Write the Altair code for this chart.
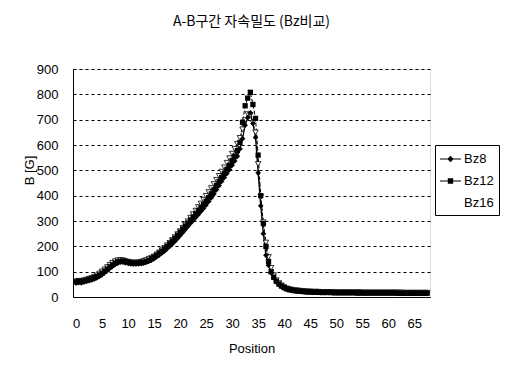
import altair as alt
import pandas as pd

series_names = ["Bz8", "Bz12", "Bz16"]
positions = [i * 0.5 for i in range(136)]

bz8 = [
    55, 57, 56, 59, 61, 64, 67, 71, 76, 82,
    89, 97, 105, 114, 122, 129, 134, 137, 137, 135,
    133, 131, 130, 130, 131, 132, 134, 137, 141, 146,
    152, 159, 166, 174, 182, 191, 200, 210, 220, 231,
    243, 255, 267, 279, 291, 302, 314, 326, 338, 350,
    363, 377, 392, 407, 424, 440, 457, 472, 488, 503,
    520, 537, 556, 585, 625, 678, 708, 727, 685, 630,
    490, 360, 250, 165, 125, 95, 75, 60, 49, 41,
    35, 31, 28, 26, 24, 23, 22, 21, 20, 19,
    19, 18,
    18, 18, 17, 17, 17, 17, 17, 16, 16, 16,
    16, 16, 16, 16, 16, 16, 15, 15, 15, 15,
    15, 15, 15, 15, 15, 15, 15, 15, 15, 15,
    15, 15, 14, 14, 14, 14, 14, 14, 14, 14,
    14, 14, 14, 14,
]

bz12 = [
    60, 62, 61, 64, 66, 69, 72, 76, 81, 87,
    94, 102, 110, 119, 127, 134, 139, 141, 141, 139,
    137, 135, 134, 134, 135, 136, 138, 141, 145, 151,
    158, 165, 173, 181, 190, 200, 210, 221, 232, 244,
    256, 268, 280, 292, 304, 316, 328, 340, 352, 365,
    378, 392, 407, 423, 440, 456, 472, 488, 504, 520,
    538, 556, 578, 610, 690, 755, 785, 808, 760, 705,
    560, 400, 290, 200, 140, 100, 78, 62, 51, 43,
    37, 32, 29, 27, 25, 24, 23, 22, 21, 20,
    20, 19,
    19, 19, 18, 18, 18, 18, 18, 17, 17, 17,
    17, 17, 17, 17, 17, 17, 16, 16, 16, 16,
    16, 16, 16, 16, 16, 16, 16, 16, 16, 16,
    16, 16, 15, 15, 15, 15, 15, 15, 15, 15,
    15, 15, 15, 15,
]

bz16 = [
    62, 64, 63, 66, 69, 72, 75, 80, 86, 93,
    101, 109, 118, 127, 135, 141, 145, 146, 145, 142,
    139, 137, 136, 136, 137, 139, 142, 146, 151, 155,
    160, 168, 176, 185, 194, 204, 214, 225, 236, 248,
    260, 273, 286, 299, 313, 327, 341, 355, 369, 384,
    399, 414, 430, 446, 462, 478, 495, 512, 530, 548,
    566, 585, 605, 628, 662, 698, 722, 718, 688, 650,
    525, 395, 295, 215, 158, 115, 86, 66, 55, 46,
    39, 34, 31, 29, 27, 26, 25, 24, 23, 22,
    22, 21,
    21, 21, 20, 20, 20, 20, 20, 20, 19, 19,
    19, 19, 19, 19, 19, 19, 19, 19, 18, 18,
    18, 18, 18, 18, 18, 18, 18, 18, 18, 18,
    18, 18, 18, 18, 17, 17, 17, 17, 17, 17,
    17, 17, 17, 17,
]

x_ticks = list(range(0, 70, 5))
y_ticks = list(range(0, 1000, 100))

rows = []
for name, vals in zip(series_names, [bz8, bz12, bz16]):
    for p, v in zip(positions, vals):
        rows.append({"Position": p, "B": v, "series": name})
df = pd.DataFrame(rows)

FONT = "Liberation Sans"

x_enc = alt.X(
    "Position:Q",
    scale=alt.Scale(domain=[-0.6, 68.05], nice=False, zero=False),
    axis=alt.Axis(
        values=x_ticks, title="Position", grid=False, ticks=False,
        labelFontSize=13, labelFont=FONT, labelColor="black", labelPadding=20,
        titleFontSize=13, titleFont=FONT, titleFontWeight="normal", titleColor="black",
        titlePadding=12, domainColor="black", labelFlush=False,
    ),
)
y_enc = alt.Y(
    "B:Q",
    scale=alt.Scale(domain=[0, 900], nice=False),
    axis=alt.Axis(
        values=y_ticks, title="B [G]", grid=True, gridColor="black",
        gridDash=[3, 3], gridWidth=1, ticks=False,
        labelFontSize=13, labelFont=FONT, labelColor="black", labelPadding=15,
        titleFontSize=13, titleFont=FONT, titleFontWeight="normal", titleColor="black",
        titleAngle=270, titleX=-44, titleY=101, titleAlign="center", titleBaseline="middle",
        domainColor="black",
    ),
)

base = alt.Chart(df)


def line_for(name, dash, width):
    return base.transform_filter(alt.datum.series == name).mark_line(
        color="black", strokeWidth=width, strokeDash=dash,
    ).encode(x=x_enc, y=y_enc)


line16 = line_for("Bz16", [2, 2], 1)
line12 = line_for("Bz12", [4, 2], 1)
line8 = line_for("Bz8", [1, 0], 1.3)

pts16 = base.transform_filter(alt.datum.series == "Bz16").mark_point(
    shape="triangle-down", filled=False, fill="white", stroke="black",
    strokeWidth=0.8, size=30, opacity=1,
).encode(x=x_enc, y=y_enc)

pts12 = base.transform_filter(alt.datum.series == "Bz12").mark_point(
    shape="square", filled=True, color="black", size=28, opacity=1,
).encode(x=x_enc, y=y_enc)

pts8 = base.transform_filter(alt.datum.series == "Bz8").mark_point(
    shape="diamond", filled=True, color="black", size=32, opacity=1,
).encode(x=x_enc, y=y_enc)

legend_paths = [
    "M-1.17,-0.06H1.17V0.06H-1.17Z M0,-0.36L0.36,0L0,0.36L-0.36,0Z",
    "M-1.17,-0.06H1.17V0.06H-1.17Z M-0.3,-0.3H0.3V0.3H-0.3Z",
    "M0,0Z",
]

# legend carrier: draws no rows, only provides the legend from the scale domain
carrier = base.transform_filter(alt.datum.B < -1000).mark_point(
    filled=True, color="black",
).encode(
    x=x_enc, y=y_enc,
    shape=alt.Shape(
        "series:N",
        scale=alt.Scale(domain=series_names, range=legend_paths),
        legend=alt.Legend(
            title=None, orient="none", legendX=362, legendY=76,
            labelFontSize=13, labelFont=FONT, labelColor="black",
            symbolSize=324, symbolOffset=1.5, labelOffset=4.5,
            symbolFillColor="black", symbolStrokeColor="black",
            symbolStrokeWidth=0, symbolOpacity=1,
            strokeColor="black", padding=5, rowPadding=6,
        ),
    ),
)

chart = alt.layer(line16, line12, line8, pts16, pts12, pts8, carrier).properties(
    width=357,
    height=228,
    title=alt.TitleParams(
        "A-B구간 자속밀도 (Bz비교)", font="Noto Sans CJK KR", fontSize=14,
        fontWeight="normal", anchor="middle", color="black", offset=34,
    ),
    autosize=alt.AutoSizeParams(type="none"),
    padding={"left": 65, "top": 61, "right": 70, "bottom": 76},
).configure_view(
    stroke="black", strokeDash=[1, 2], strokeWidth=1,
).configure(background="white")

chart.save("out.html", embed_options={"renderer": "svg", "actions": False})
